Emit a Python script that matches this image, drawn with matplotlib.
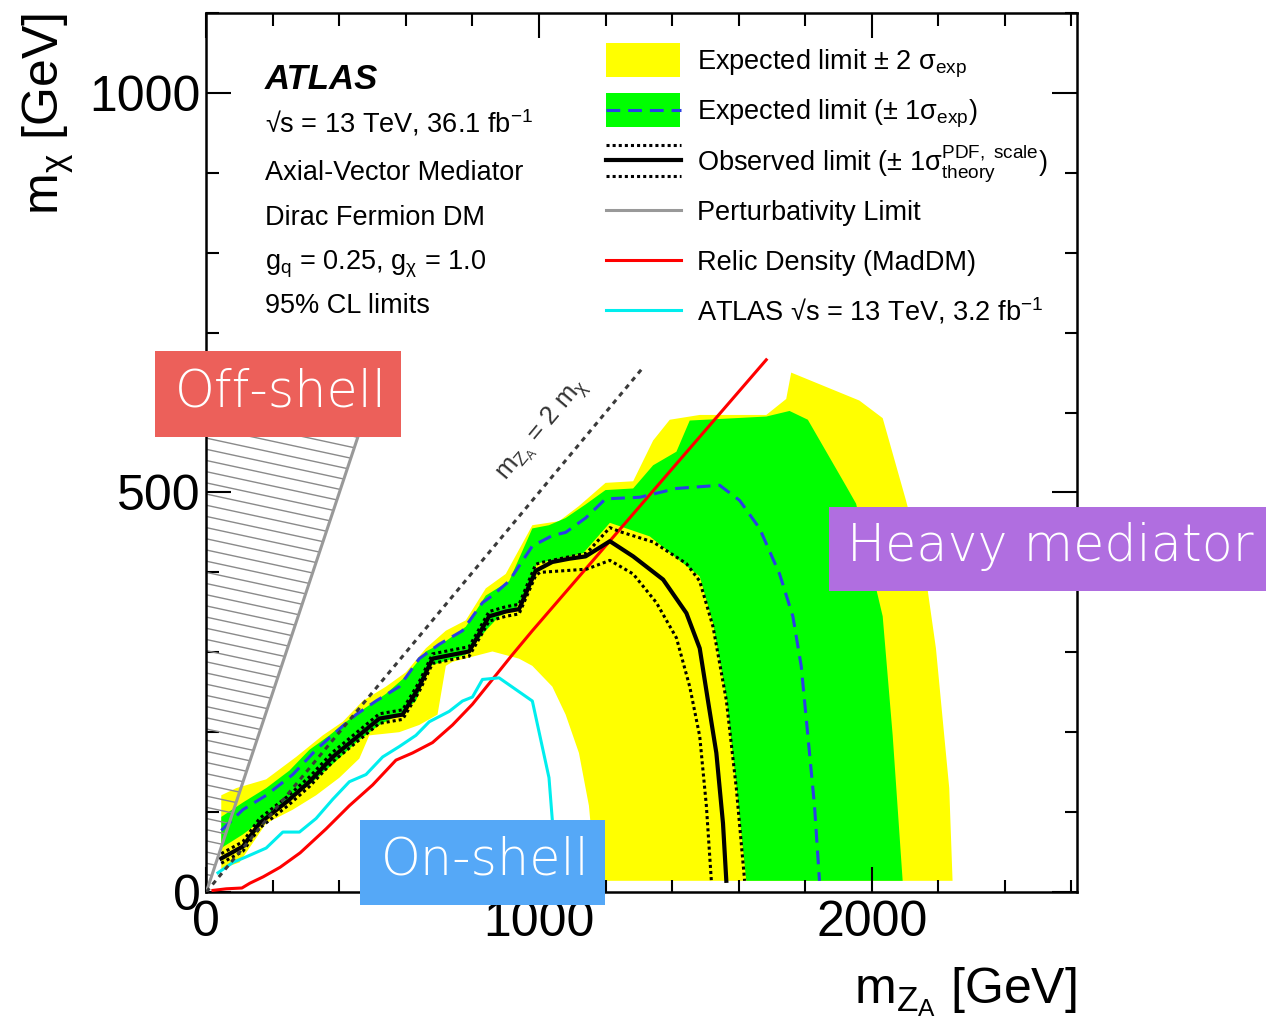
import numpy as np
import matplotlib.pyplot as plt
from matplotlib.patches import Rectangle, Polygon
from matplotlib.lines import Line2D
from matplotlib.collections import LineCollection
from matplotlib.ticker import MultipleLocator

plt.rcParams['font.family'] = ['Liberation Sans', 'DejaVu Sans']
plt.rcParams['mathtext.fontset'] = 'custom'
plt.rcParams['mathtext.rm'] = 'Liberation Sans'
plt.rcParams['mathtext.it'] = 'Liberation Sans:italic'
plt.rcParams['mathtext.bf'] = 'Liberation Sans:bold'

# --- data (GeV) ---
exp2_up_x = [45, 90, 180, 270, 350, 410, 470, 540, 600, 660, 720, 780, 840, 900, 980, 1060, 1120,
             1200, 1283, 1343, 1393, 1483, 1683, 1743, 1758, 1963, 2033, 2103, 2163, 2193, 2233, 2243]
exp2_up_y = [121, 130, 141, 169, 196, 213, 239, 257, 275, 305, 327, 340, 380, 398, 459, 464, 483,
             512, 514, 565, 591, 597, 597, 617, 650, 615, 593, 490, 393, 305, 130, 14]
exp2_dn_x = [45, 100, 180, 260, 330, 400, 460, 490, 580, 640, 695, 720, 740, 860, 940, 980, 1040,
             1080, 1120, 1150, 1165, 1170]
exp2_dn_y = [29, 37, 86, 103, 121, 143, 167, 196, 200, 209, 222, 283, 288, 301, 292, 283, 257,
             222, 174, 108, 40, 14]

exp1_up_x = [45, 110, 180, 250, 310, 370, 420, 480, 540, 600, 660, 720, 780, 840, 910, 980, 1030,
             1080, 1140, 1200, 1283, 1343, 1413, 1453, 1683, 1753, 1808, 1923, 1953, 2033, 2063, 2093]
exp1_up_y = [94, 112, 130, 152, 178, 196, 213, 231, 248, 270, 301, 314, 332, 371, 389, 455, 459,
             468, 485, 503, 505, 534, 551, 590, 595, 602, 591, 508, 486, 345, 196, 14]
exp1_dn_x = [45, 110, 180, 240, 310, 380, 450, 520, 580, 630, 670, 710, 780, 840, 880, 930, 980,
             993, 1133, 1213, 1333, 1413, 1483, 1523, 1563, 1593, 1623]
exp1_dn_y = [55, 72, 94, 112, 134, 160, 187, 209, 222, 239, 283, 288, 297, 327, 345, 354, 393,
             411, 424, 462, 445, 418, 395, 336, 244, 134, 14]

exp_x = [45, 110, 180, 260, 330, 400, 450, 510, 580, 640, 700, 770, 830, 860, 910, 980, 1040, 1080,
         1140, 1200, 1303, 1413, 1543, 1603, 1663, 1723, 1763, 1788, 1808, 1828, 1843]
exp_y = [77, 103, 121, 147, 178, 204, 222, 239, 257, 292, 310, 327, 362, 371, 389, 433, 446, 450,
         468, 492, 494, 505, 509, 490, 455, 398, 345, 283, 196, 108, 14]

obs_x = [45, 110, 160, 245, 310, 380, 450, 520, 590, 640, 680, 740, 790, 850, 900, 940, 990, 1040,
         1090, 1140, 1213, 1283, 1373, 1443, 1483, 1508, 1533, 1553, 1563]
obs_y = [42, 57, 86, 114, 138, 169, 193, 217, 222, 257, 292, 297, 301, 345, 351, 354, 402, 413,
         417, 420, 439, 420, 391, 349, 305, 239, 174, 86, 14]
obs_up_x = [45, 110, 160, 245, 310, 380, 450, 520, 590, 640, 680, 740, 790, 850, 900, 940, 990,
            1003, 1143, 1213, 1243, 1343, 1443, 1483, 1523, 1563, 1593, 1618]
obs_up_y = [48, 63, 92, 120, 144, 175, 199, 223, 228, 263, 298, 303, 307, 351, 357, 360, 410,
            412, 424, 456, 451, 438, 411, 389, 332, 240, 130, 14]
obs_dn_x = [45, 110, 160, 245, 310, 380, 450, 520, 590, 640, 680, 740, 790, 850, 900, 940, 990,
            1003, 1143, 1213, 1283, 1353, 1413, 1453, 1483, 1503, 1518]
obs_dn_y = [36, 51, 80, 108, 132, 163, 187, 211, 216, 251, 286, 291, 295, 339, 345, 348, 396,
            400, 404, 415, 398, 362, 318, 257, 195, 108, 14]

relic_x = [20, 60, 107, 131, 171, 222, 282, 360, 430, 500, 570, 620, 680, 740, 800, 860, 920, 980, 1683]
relic_y = [2, 4, 5, 11, 19, 31, 49, 79, 108, 134, 165, 174, 187, 209, 235, 266, 297, 327, 666]

old_x = [35, 80, 120, 180, 230, 280, 330, 380, 430, 480, 530, 580, 630, 670, 730, 770, 800, 830,
         880, 980, 1030, 1040, 1048]
old_y = [24, 37, 44, 55, 75, 75, 92, 116, 138, 147, 169, 182, 196, 213, 226, 239, 244, 266,
         268, 239, 143, 90, 10]

pert_x = [0, 496]
pert_y = [0, 620]
diag_x = [0, 1310]
diag_y = [0, 655]

W, H = 1266, 1031
fig = plt.figure(figsize=(W / 100, H / 100), dpi=100)
ax = fig.add_axes([206.3 / W, 1 - 892 / H, 870.7 / W, 879 / H])

# bands
ax.fill(exp2_up_x + exp2_dn_x[::-1], exp2_up_y + exp2_dn_y[::-1], color='#ffff00', lw=0, zorder=1)
ax.fill(exp1_up_x + exp1_dn_x[::-1], exp1_up_y + exp1_dn_y[::-1], color='#00ff00', lw=0, zorder=1.1)

# off-shell hatching left of the perturbativity line
clip = Polygon([[0, 0], [pert_x[-1], pert_y[-1]], [0, pert_y[-1]]], closed=True,
               transform=ax.transData, facecolor='none', edgecolor='none')
ax.add_patch(clip)
segs = [[(0, y0), (700, y0 - 0.09 * 700)] for y0 in np.arange(-20, 760, 14)]
lc = LineCollection(segs, colors='#8a8a8a', linewidths=1.0, zorder=2)
ax.add_collection(lc)
lc.set_clip_path(clip)

ax.plot(relic_x, relic_y, color='#ff0000', lw=2.2, zorder=3)
ax.plot(old_x, old_y, color='#00eeee', lw=2.2, zorder=3)
ax.plot(exp_x, exp_y, color='#2b3ee6', lw=2.2, ls=(0, (4.5, 2.6)), zorder=4)
ax.plot(obs_up_x, obs_up_y, color='black', lw=2.2, ls=(0, (1, 1)), zorder=4)
ax.plot(obs_dn_x, obs_dn_y, color='black', lw=2.2, ls=(0, (1, 1)), zorder=4)
ax.plot(obs_x, obs_y, color='black', lw=3.0, zorder=5)
ax.plot(pert_x, pert_y, color='#999999', lw=2.2, zorder=5)
ax.plot(diag_x, diag_y, color='#3a3a3a', lw=2.2, ls=(0, (1.6, 1.6)), zorder=5)
ax.text(1012, 578, r'$\mathrm{m_{Z_{A}}}$ = 2 $\mathrm{m_{χ}}$', rotation=np.degrees(np.arctan(0.5)),
        transform_rotates_text=True, rotation_mode='anchor', ha='center', va='center',
        fontsize=18.5, color='#333333', zorder=6)

ax.set_xlim(0, 2617)
ax.set_ylim(0, 1100)
ax.xaxis.set_major_locator(MultipleLocator(1000))
ax.xaxis.set_minor_locator(MultipleLocator(200))
ax.yaxis.set_major_locator(MultipleLocator(500))
ax.yaxis.set_minor_locator(MultipleLocator(100))
ax.tick_params(which='both', direction='in', top=True, right=True, width=1.5, labelsize=36)
ax.tick_params(which='major', length=18)
ax.tick_params(which='minor', length=9)
ax.tick_params(axis='y', pad=4)
ax.tick_params(axis='x', pad=6)
for s in ax.spines.values():
    s.set_linewidth(1.8)

ax.set_xlabel(r'$\mathrm{m_{Z_{A}}}$ [GeV]', fontsize=36, loc='right')
ax.xaxis.set_label_coords(1.0, -0.083)
ax.set_ylabel(r'$\mathrm{m_{χ}}$ [GeV]', fontsize=36, loc='top')
ax.yaxis.set_label_coords(-0.15, 1.0)


def fx(px):
    return px / W


def fy(py):
    return 1 - py / H


# left info block
fig.text(fx(265), fy(89), 'ATLAS', fontsize=25, fontweight='bold', style='italic')
info = ['√s = 13 TeV, 36.1 fb$^{-1}$', 'Axial-Vector Mediator', 'Dirac Fermion DM',
        r'$\mathrm{g_{q}}$ = 0.25, $\mathrm{g_{χ}}$ = 1.0', '95% CL limits']
for txt, base in zip(info, [133, 180, 225, 270, 313]):
    fig.text(fx(265), fy(base), txt, fontsize=19.5, va='baseline')

# legend
tr = fig.transFigure
fig.add_artist(Rectangle((fx(606), fy(77)), 74 / W, 34 / H, transform=tr, color='#ffff00', lw=0))
fig.add_artist(Rectangle((fx(606), fy(127)), 74 / W, 34 / H, transform=tr, color='#00ff00', lw=0))
lx = [fx(606), fx(681)]
fig.add_artist(Line2D(lx, [fy(110)] * 2, transform=tr, color='#2b3ee6', lw=2.2, ls=(0, (4.5, 2.6))))
fig.add_artist(Line2D(lx, [fy(145)] * 2, transform=tr, color='black', lw=2.2, ls=(0, (1, 1))))
fig.add_artist(Line2D(lx, [fy(160)] * 2, transform=tr, color='black', lw=3.0))
fig.add_artist(Line2D(lx, [fy(176)] * 2, transform=tr, color='black', lw=2.2, ls=(0, (1, 1))))
fig.add_artist(Line2D(lx, [fy(210)] * 2, transform=tr, color='#999999', lw=2.2))
fig.add_artist(Line2D(lx, [fy(260)] * 2, transform=tr, color='#ff0000', lw=2.2))
fig.add_artist(Line2D(lx, [fy(310)] * 2, transform=tr, color='#00eeee', lw=2.2))
leg = [r'Expected limit ± 2 $\mathrm{σ_{exp}}$',
       r'Expected limit (± 1$\mathrm{σ_{exp}}$)',
       r'Observed limit (± 1$\mathrm{σ^{PDF,\ scale}_{theory}}$)',
       'Perturbativity Limit', 'Relic Density (MadDM)',
       'ATLAS √s = 13 TeV, 3.2 fb$^{-1}$']
for txt, base in zip(leg, [70, 120, 170, 220, 270, 320]):
    fig.text(fx(697), fy(base), txt, fontsize=19.5, va='baseline')

# region labels
boxes = [('Off-shell', 155, 351, 401, 437, '#ec605a'),
         ('On-shell', 360, 820, 605, 905, '#55a8f7'),
         ('Heavy mediator', 829, 507, 1266, 591, '#b06ee0')]
for txt, x0, y0, x1, y1, col in boxes:
    fig.add_artist(Rectangle((fx(x0), fy(y1)), (x1 - x0) / W, (y1 - y0) / H,
                             transform=tr, color=col, lw=0, zorder=10))
    fig.text(fx((x0 + x1) / 2 + 3), fy((y0 + y1) / 2 - 2), txt, ha='center', va='center',
             fontsize=36.5, color='white', family='DejaVu Sans', fontweight='light', zorder=11)

fig.savefig('out.png', dpi=100)
